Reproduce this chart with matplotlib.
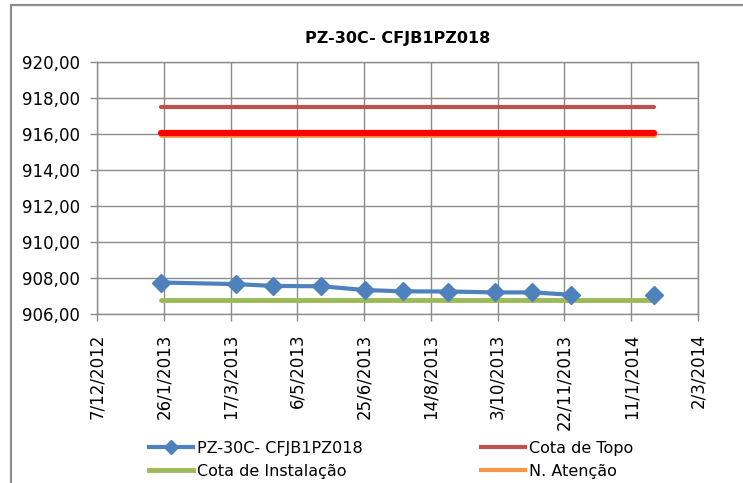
import datetime as dt

import matplotlib
matplotlib.use("Agg")
import matplotlib.dates as mdates
import matplotlib.pyplot as plt
from matplotlib.lines import Line2D
from matplotlib.patches import Rectangle
from matplotlib.ticker import FuncFormatter

# readings of the piezometer
dates = [
    dt.date(2013, 1, 24), dt.date(2013, 3, 21), dt.date(2013, 4, 18),
    dt.date(2013, 5, 24), dt.date(2013, 6, 26), dt.date(2013, 7, 24),
    dt.date(2013, 8, 27), dt.date(2013, 10, 1), dt.date(2013, 10, 29),
    dt.date(2013, 11, 27), dt.date(2014, 1, 28),
]
levels = [907.75, 907.66, 907.56, 907.54, 907.33, 907.26,
          907.25, 907.20, 907.20, 907.07, 907.05]

# reference levels
cota_topo = 917.5
cota_instalacao = 906.78
n_atencao = 915.95
n_alerta = 916.05

title = "PZ-30C- CFJB1PZ018"
x_start = dt.date(2012, 12, 7)
x_end = dt.date(2014, 3, 2)

plt.rcParams["font.family"] = ["DejaVu Sans"]

fig = plt.figure(figsize=(7.43, 4.83), dpi=100)
ax = fig.add_axes([97 / 743, 1 - 314 / 483, 601 / 743, 252 / 483])

# outer chart-area border (only left/top visible in the crop)
fig.patches.append(Rectangle((11 / 743, -0.2), 1.2, 1.2 - 5 / 483,
                             transform=fig.transFigure, fill=False,
                             edgecolor="#8c8c8c", linewidth=1.6))

span = [dates[0], dates[-1]]
ax.plot(span, [cota_topo] * 2, color="#c0504d", lw=3, solid_capstyle="round",
        label="Cota de Topo", zorder=3)
ax.plot(span, [n_atencao] * 2, color="#f79646", lw=3.5, solid_capstyle="round",
        label="N. Atenção", zorder=3)
ax.plot(span, [n_alerta] * 2, color="#ff0000", lw=4.5, solid_capstyle="round",
        label="_nolegend_", zorder=4)
ax.plot(span, [cota_instalacao] * 2, color="#9bbb59", lw=3.5,
        solid_capstyle="round", label="Cota de Instalação", zorder=3)

# series: last reading is not connected to the others
ax.plot(dates[:-1], levels[:-1], color="#4f81bd", lw=3, zorder=5)
ax.plot(dates, levels, linestyle="none", marker="D", markersize=9,
        color="#4f81bd", zorder=6)

ax.set_xlim(mdates.date2num(x_start), mdates.date2num(x_end))
ax.set_ylim(906, 920)
ax.set_yticks(range(906, 921, 2))
ax.yaxis.set_major_formatter(FuncFormatter(lambda v, p: f"{v:.2f}".replace(".", ",")))

xt = [mdates.date2num(x_start) + 50 * i for i in range(10)]
ax.set_xticks(xt)
ax.xaxis.set_major_formatter(FuncFormatter(
    lambda v, p: "{d.day}/{d.month}/{d.year}".format(d=mdates.num2date(v))))
plt.setp(ax.get_xticklabels(), rotation=90)

ax.grid(True, color="#8c8c8c", lw=1)
ax.set_axisbelow(True)
for s in ax.spines.values():
    s.set_color("#8c8c8c")
    s.set_linewidth(1)
ax.tick_params(axis="both", colors="#8c8c8c", labelcolor="black",
               labelsize=12, length=5, width=1)
ax.tick_params(axis="y", pad=7)
ax.tick_params(axis="x", pad=9)

ax.set_title(title, fontsize=11.5, fontweight="bold", pad=14)

handles = [
    Line2D([], [], color="#4f81bd", lw=3, marker="D", markersize=7),
    Line2D([], [], color="#9bbb59", lw=3.5),
    Line2D([], [], color="#c0504d", lw=3),
    Line2D([], [], color="#f79646", lw=3),
]
labels = ["PZ-30C- CFJB1PZ018", "Cota de Instalação", "Cota de Topo", "N. Atenção"]
fig.legend(handles, labels, ncol=2, loc="upper left",
           bbox_to_anchor=(141 / 743, 1 - 433 / 483), frameon=False,
           fontsize=11.5, handlelength=2.75, handletextpad=0.25,
           columnspacing=7.4, labelspacing=0.5, borderpad=0)

fig.savefig("out.png", dpi=100)
